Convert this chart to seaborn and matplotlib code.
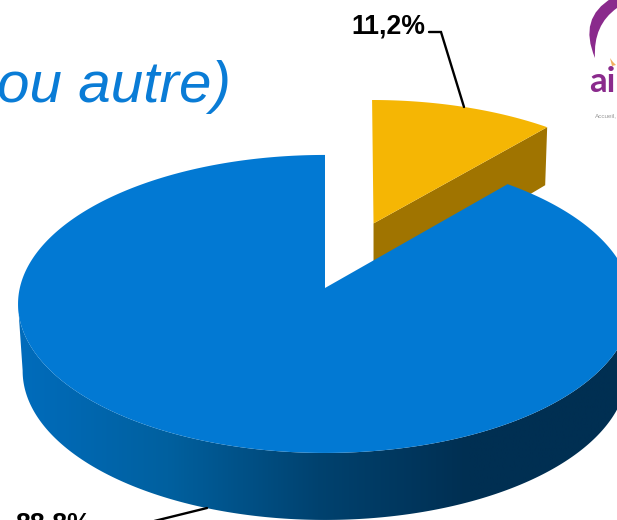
import numpy as np
import matplotlib
matplotlib.use("Agg")
import matplotlib.pyplot as plt
from matplotlib.patches import Polygon, PathPatch
from matplotlib.path import Path
from matplotlib.colors import LinearSegmentedColormap
import seaborn as sns

# data
shares = [88.8, 11.2]
share_labels = ["88,8%", "11,2%"]
title_text = "ou autre)"
face_colors = ["#0279D3", "#F5B604"]
gold_cut_color = "#A07400"
side_stops = ["#006CBC", "#00609F", "#00426F", "#002F52", "#002F52"]

sns.set_theme(style="white", font="Liberation Sans")

fig, ax = plt.subplots(figsize=(6.17, 5.2), dpi=100)
fig.subplots_adjust(0, 0, 1, 1)
ax.set_xlim(0, 617)
ax.set_ylim(520, 0)
ax.axis("off")

CX, CY, A, B, K = 325, 288, 305.2, 147.3, 0.107
def project(x, y):
    d = 1 + K * y
    return CX + A * x / d, CY - B * y / d

start = 90.0
sweep = [s / sum(shares) * 360 for s in shares]
blue_th = np.radians(np.linspace(start, start + sweep[0], 700))
gold_th = np.radians(np.linspace(start - sweep[1], start, 80))
mid = np.radians(start - sweep[1] / 2)
EX = 0.49
ox, oy = EX * np.cos(mid), EX * np.sin(mid)

gx, gy = project(ox + np.cos(gold_th), oy + np.sin(gold_th))
ax0, ay0 = project(ox, oy)
t = (ay0 - gy) / (ay0 - gy.min())
gx = gx + 2.5 * t
gy = gy - 2.0 * t
ax0 -= 0.6
D2 = 58
ax.fill([ax0, gx[0], gx[0] - 2, ax0], [ay0, gy[0], gy[0] + D2, ay0 + D2 + 6],
        color=gold_cut_color, lw=0, zorder=2)
ax.fill([ax0, *gx], [ay0, *gy], color=face_colors[1], lw=0, zorder=3)

bx, by = project(np.cos(blue_th), np.sin(blue_th))
D1 = 67
cmap = LinearSegmentedColormap.from_list("side", side_stops)
front = np.sin(blue_th) < -0.1
low_x = CX + (bx[front] - CX) * 0.985
side_xy = np.r_[np.c_[bx[front], by[front]], np.c_[low_x[::-1], by[front][::-1] + D1]]
side = Polygon(side_xy, closed=True, transform=ax.transData, fc="none", ec="none")
ax.add_patch(side)
im = ax.imshow(np.linspace(0, 1, 256)[None, :], cmap=cmap, extent=(18, 618, 530, 150),
               aspect="auto", zorder=4, interpolation="bilinear")
im.set_clip_path(side)
ax.fill([CX, *bx], [CY, *by], color=face_colors[0], lw=0, zorder=5)
ax.set_xlim(0, 617)
ax.set_ylim(520, 0)

ax.plot([429, 441, 464], [32, 32, 107], color="black", lw=1.7, zorder=6, solid_joinstyle="miter")
ax.plot([207, 130], [508, 527], color="black", lw=1.7, zorder=6)
ax.text(351, 33, share_labels[1], fontsize=19.2, fontweight="bold", color="black", ha="left", va="baseline")
ax.text(15, 532, share_labels[0], fontsize=19.2, fontweight="bold", color="black", ha="left", va="baseline")

ax.text(-3, 102, title_text, family="Liberation Sans", style="italic", fontsize=42,
        color="#0A7CD6", ha="left", va="baseline")

arc = Path([(595, 58), (578, 18), (612, -2), (617, -2), (617, 8), (593, 25), (595, 58)],
           [Path.MOVETO, Path.CURVE3, Path.CURVE3, Path.LINETO, Path.LINETO, Path.CURVE3, Path.CURVE3])
ax.add_patch(PathPatch(arc, fc="#8A2A8C", ec="none"))
ax.fill([610, 613, 616, 612], [58, 62, 65, 66], color="#F0B060", lw=0)
ax.text(589, 92, "ai", fontsize=25, fontweight="bold", family="Lato", color="#8A2A8C", ha="left", va="baseline")
ax.text(595, 117, "Accueil,", fontsize=4.6, color="#9A9A9A", ha="left", va="baseline")

fig.savefig("out.png", dpi=100)
